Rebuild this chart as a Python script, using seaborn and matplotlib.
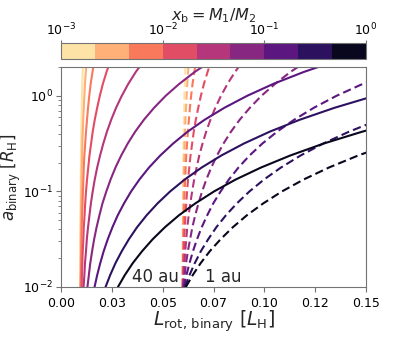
import pandas as pd
import seaborn as sns
import matplotlib
matplotlib.use('Agg')
from matplotlib import pyplot as plt
from matplotlib import colors as mcolors
from matplotlib import cm

# mass ratio of each curve (left edges of the colour bins)
x_b = [0.001, 0.00215, 0.00464, 0.01, 0.0215, 0.0464, 0.1, 0.215, 0.464]
cbar_ticks = [1e-3, 1e-2, 1e-1, 1e0]

# a_binary [R_H] sample points along every curve
a_binary = [0.01, 0.01334, 0.01778, 0.02371, 0.03162, 0.04217, 0.05623, 0.07499,
            0.1, 0.1334, 0.1778, 0.2371, 0.3162, 0.4217, 0.5623, 0.7499,
            1, 1.334, 1.778, 2.371]

# L_rot,binary, in units of 1e-4 L_H (one row per x_b)
L_40au = [
    [94, 95, 95, 95, 95, 95, 96, 96, 97, 97, 98, 98, 99, 100, 101, 102, 103, 105, 107, 109],
    [95, 96, 96, 97, 97, 98, 98, 99, 100, 101, 102, 104, 105, 107, 109, 112, 115, 118, 122, 126],
    [97, 98, 99, 100, 101, 102, 104, 106, 108, 110, 112, 115, 119, 123, 128, 133, 139, 146, 155, 164],
    [102, 103, 105, 107, 110, 112, 116, 119, 123, 128, 134, 140, 148, 156, 166, 178, 191, 206, 224, 245],
    [111, 115, 118, 123, 127, 133, 140, 147, 156, 166, 178, 192, 208, 226, 247, 271, 299, 331, 368, 411],
    [130, 137, 144, 153, 163, 175, 189, 204, 223, 244, 268, 296, 328, 365, 408, 458, 515, 582, 658, 746],
    [165, 178, 193, 210, 230, 253, 279, 310, 345, 386, 433, 488, 551, 623, 707, 804, 916, 1045, 1195, 1367],
    [219, 242, 268, 299, 334, 374, 421, 475, 537, 609, 692, 788, 899, 1027, 1175, 1346, 1543],
    [280, 314, 353, 399, 451, 511, 580, 661, 753, 860, 984, 1127, 1291, 1482, 1701],
]
L_1au = [
    [598, 598, 598, 599, 599, 599, 599, 600, 600, 601, 601, 602, 603, 604, 605, 606, 607, 609, 611, 613],
    [598, 598, 599, 599, 600, 600, 601, 602, 603, 604, 605, 607, 608, 610, 612, 615, 618, 621, 625, 629],
    [598, 599, 600, 601, 602, 603, 605, 606, 608, 611, 613, 616, 620, 624, 629, 634, 640, 647, 656, 665],
    [599, 600, 602, 604, 606, 609, 612, 616, 620, 625, 631, 637, 645, 653, 663, 675, 688, 703, 721, 741],
    [600, 603, 607, 611, 616, 621, 628, 636, 645, 655, 667, 680, 696, 714, 735, 759, 787, 819, 856, 899],
    [601, 608, 615, 624, 635, 646, 660, 676, 694, 715, 739, 767, 799, 836, 879, 929, 986, 1053, 1129, 1217],
    [604, 617, 632, 649, 669, 692, 719, 749, 785, 826, 873, 927, 990, 1063, 1147, 1244, 1355, 1485, 1634],
    [609, 632, 658, 688, 724, 764, 811, 865, 927, 999, 1082, 1178, 1289, 1417, 1565],
    [614, 648, 687, 732, 785, 845, 914, 995, 1087, 1194, 1318, 1461, 1625],
]

x_ticks = [0, 0.025, 0.05, 0.075, 0.1, 0.125, 0.15]
x_tick_labels = ['0.00', '0.03', '0.05', '0.07', '0.10', '0.12', '0.15']

# 9 discrete colour bins, colour taken at the bin centre
colors = [plt.get_cmap('magma_r')((i + 0.5) / 9) for i in range(9)]

recs = []
for dist, rows in (('40 au', L_40au), ('1 au', L_1au)):
    for x, row in zip(x_b, rows):
        for L, a in zip(row, a_binary):
            recs.append({'L': L * 1e-4, 'a': a, 'x_b': str(x), 'dist': dist})
df = pd.DataFrame(recs)

sns.set_style('ticks')
plt.rcParams['axes.edgecolor'] = '0.45'
plt.rcParams['xtick.color'] = '0.45'
plt.rcParams['ytick.color'] = '0.45'
plt.rcParams['xtick.labelcolor'] = 'black'
plt.rcParams['ytick.labelcolor'] = 'black'

fig = plt.figure(figsize=(4.07, 3.39), dpi=100)
ax = fig.add_axes([61 / 407, 52 / 339, 305 / 407, 220 / 339])
sns.lineplot(data=df, x='L', y='a', hue='x_b', style='dist',
             palette=dict(zip([str(x) for x in x_b], colors)),
             dashes={'40 au': '', '1 au': (4, 2)},
             estimator=None, sort=False, legend=False, lw=1.5, ax=ax)
ax.set_yscale('log')
ax.set_xlim(0, 0.15)
ax.set_ylim(0.01, 2)
ax.set_xticks(x_ticks)
ax.set_xticklabels(x_tick_labels)
ax.tick_params(labelsize=9)
ax.tick_params(axis='y', pad=2.5)
ax.set_xlabel(r'$L_\mathrm{rot,\,binary}\ [L_\mathrm{H}]$', fontsize=13.5)
ax.set_ylabel(r'$a_\mathrm{binary}\ [R_\mathrm{H}]$', fontsize=12)
ax.yaxis.set_label_coords(-0.123, 0.5)
ax.xaxis.set_label_coords(0.5, -0.1)
ax.text(0.0348, 0.0113, '40 au', fontsize=12)
ax.text(0.0708, 0.0113, '1 au', fontsize=12)

cax = fig.add_axes([61 / 407, 0.8251, 305 / 407, 0.049])
sm = cm.ScalarMappable(norm=mcolors.LogNorm(1e-3, 1), cmap=mcolors.ListedColormap(colors))
cb = fig.colorbar(sm, cax=cax, orientation='horizontal', ticks=cbar_ticks)
cb.ax.xaxis.set_ticks_position('top')
cb.ax.xaxis.set_label_position('top')
cb.ax.minorticks_off()
cb.ax.tick_params(labelsize=9, length=2, pad=1)
cb.outline.set_edgecolor('0.45')
cb.set_label(r'$x_\mathrm{b} = M_1/M_2$', fontsize=11.5, labelpad=1.5)

fig.savefig('out.png', dpi=100)
